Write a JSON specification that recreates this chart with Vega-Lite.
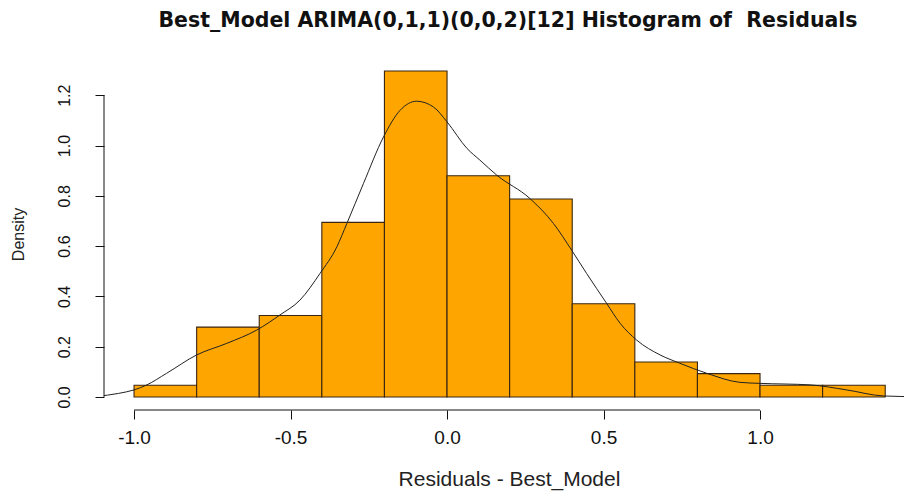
{
  "$schema": "https://vega.github.io/schema/vega-lite/v6.json",
  "autosize": {"type": "none"},
  "width": 800,
  "height": 352,
  "padding": {"left": 104, "top": 58, "right": 0, "bottom": 81},
  "background": "white",
  "config": {"view": {"stroke": null}, "font": "Liberation Sans"},
  "title": {
    "text": "Best_Model ARIMA(0,1,1)(0,0,2)[12] Histogram of\u00a0 Residuals",
    "font": "DejaVu Sans",
    "fontSize": 20.5,
    "fontWeight": "bold",
    "color": "#111",
    "anchor": "middle",
    "dx": 4,
    "offset": 27
  },
  "datasets": {
    "bins": [
      {"bin_start": -1.0, "bin_end": -0.8, "density": 0.0463},
      {"bin_start": -0.8, "bin_end": -0.6, "density": 0.2778},
      {"bin_start": -0.6, "bin_end": -0.4, "density": 0.3241},
      {"bin_start": -0.4, "bin_end": -0.2, "density": 0.6944},
      {"bin_start": -0.2, "bin_end": 0.0, "density": 1.2963},
      {"bin_start": 0.0, "bin_end": 0.2, "density": 0.8796},
      {"bin_start": 0.2, "bin_end": 0.4, "density": 0.787},
      {"bin_start": 0.4, "bin_end": 0.6, "density": 0.3704},
      {"bin_start": 0.6, "bin_end": 0.8, "density": 0.1389},
      {"bin_start": 0.8, "bin_end": 1.0, "density": 0.0926},
      {"bin_start": 1.0, "bin_end": 1.2, "density": 0.0463},
      {"bin_start": 1.2, "bin_end": 1.4, "density": 0.0463}
    ],
    "kde": [
      {"x": -1.12, "y": 0.002},
      {"x": -1.05, "y": 0.014},
      {"x": -1.0, "y": 0.028},
      {"x": -0.959, "y": 0.048},
      {"x": -0.896, "y": 0.094},
      {"x": -0.8, "y": 0.167},
      {"x": -0.704, "y": 0.213},
      {"x": -0.608, "y": 0.266},
      {"x": -0.534, "y": 0.326},
      {"x": -0.47, "y": 0.385},
      {"x": -0.406, "y": 0.491},
      {"x": -0.352, "y": 0.597},
      {"x": -0.32, "y": 0.69},
      {"x": -0.267, "y": 0.849},
      {"x": -0.203, "y": 1.034},
      {"x": -0.15, "y": 1.14},
      {"x": -0.097, "y": 1.176},
      {"x": -0.043, "y": 1.153},
      {"x": 0.0, "y": 1.094},
      {"x": 0.064, "y": 0.988},
      {"x": 0.105, "y": 0.942},
      {"x": 0.159, "y": 0.882},
      {"x": 0.265, "y": 0.789},
      {"x": 0.34, "y": 0.69},
      {"x": 0.398, "y": 0.584},
      {"x": 0.446, "y": 0.491},
      {"x": 0.51, "y": 0.372},
      {"x": 0.553, "y": 0.293},
      {"x": 0.606, "y": 0.226},
      {"x": 0.681, "y": 0.167},
      {"x": 0.744, "y": 0.134},
      {"x": 0.83, "y": 0.094},
      {"x": 0.936, "y": 0.058},
      {"x": 1.0, "y": 0.054},
      {"x": 1.16, "y": 0.048},
      {"x": 1.277, "y": 0.028},
      {"x": 1.394, "y": 0.004},
      {"x": 1.5, "y": 0.001}
    ]
  },
  "layer": [
    {
      "data": {"name": "bins"},
      "mark": {"type": "bar", "color": "#FFA500", "stroke": "#3a2610", "strokeWidth": 1.1},
      "encoding": {
        "x": {
          "field": "bin_start",
          "type": "quantitative",
          "scale": {"domain": [-1.096, 1.46], "nice": false, "zero": false},
          "axis": {
            "values": [-1.0, -0.5, 0.0, 0.5, 1.0],
            "format": ".1f",
            "labelExpr": "replace(datum.label, '\u2212', '-')",
            "domain": false,
            "grid": false,
            "tickSize": 9,
            "tickColor": "#111",
            "labelFontSize": 19,
            "labelColor": "#111",
            "labelPadding": 9,
            "labelFont": "Liberation Sans",
            "title": "Residuals - Best_Model",
            "titleFontSize": 21,
            "titleFontWeight": "normal",
            "titleColor": "#222",
            "titlePadding": 21,
            "titleFont": "Liberation Sans",
            "titleX": 405
          }
        },
        "x2": {"field": "bin_end"},
        "y": {
          "field": "density",
          "type": "quantitative",
          "scale": {"domain": [-0.0519, 1.348], "nice": false, "zero": false},
          "axis": {
            "values": [0, 0.2, 0.4, 0.6, 0.8, 1.0, 1.2],
            "format": ".1f",
            "domain": false,
            "grid": false,
            "tickSize": 9,
            "tickColor": "#111",
            "labelAngle": -90,
            "labelAlign": "center",
            "labelBaseline": "bottom",
            "labelFontSize": 16,
            "labelColor": "#111",
            "labelPadding": 23,
            "labelFont": "Liberation Sans",
            "title": "Density",
            "titleFontSize": 16,
            "titleFontWeight": "normal",
            "titleColor": "#222",
            "titlePadding": 30,
            "titleFont": "Liberation Sans"
          }
        },
        "y2": {"datum": 0}
      }
    },
    {
      "data": {"name": "kde"},
      "mark": {"type": "line", "color": "#222", "strokeWidth": 1, "clip": true, "interpolate": "monotone"},
      "encoding": {
        "x": {"field": "x", "type": "quantitative"},
        "y": {"field": "y", "type": "quantitative"}
      }
    },
    {
      "data": {"values": [{}]},
      "mark": {"type": "rule", "color": "#111", "strokeWidth": 1},
      "encoding": {
        "x": {"datum": -1.0},
        "x2": {"datum": 1.0},
        "y": {"datum": -0.0519}
      }
    },
    {
      "data": {"values": [{}]},
      "mark": {"type": "rule", "color": "#111", "strokeWidth": 1},
      "encoding": {
        "x": {"datum": -1.096},
        "y": {"datum": 0},
        "y2": {"datum": 1.2}
      }
    }
  ]
}
